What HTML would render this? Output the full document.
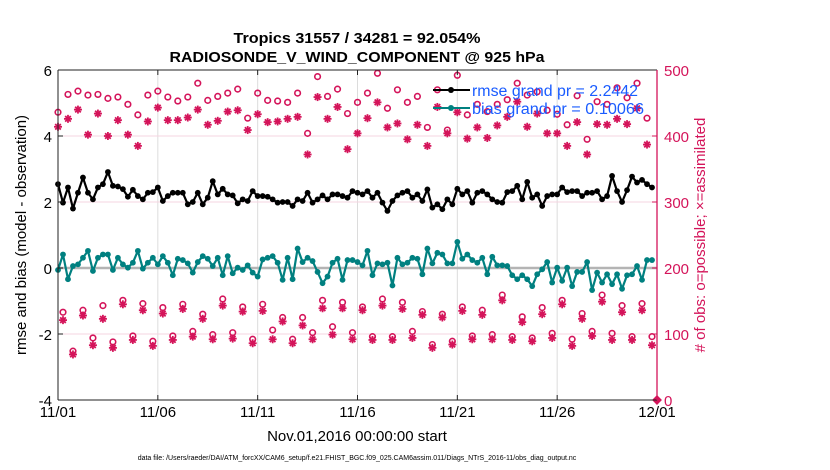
<!DOCTYPE html>
<html><head><meta charset="utf-8"><style>
html,body{margin:0;padding:0;background:#fff;}
svg{display:block;font-family:"Liberation Sans",Arial,sans-serif;}
</style></head><body>
<svg id="chart" width="830" height="470" viewBox="0 0 830 470" xmlns="http://www.w3.org/2000/svg">
<text x="357" y="43" text-anchor="middle" font-size="15" font-weight="bold" textLength="247" lengthAdjust="spacingAndGlyphs">Tropics 31557 / 34281 = 92.054%</text>
<text x="357" y="62" text-anchor="middle" font-size="15" font-weight="bold" textLength="375" lengthAdjust="spacingAndGlyphs">RADIOSONDE_V_WIND_COMPONENT @ 925 hPa</text>
<g id="grid"></g>
<g id="marks"></g>
<g id="axes"></g>
<g>
<line x1="433" y1="90" x2="470" y2="90" stroke="#000" stroke-width="2"/>
<circle cx="451" cy="90" r="3" fill="#000"/>
<text x="472" y="96" font-size="15.5" fill="#1a5cff" textLength="166" lengthAdjust="spacingAndGlyphs">rmse grand pr = 2.2442</text>
<line x1="433" y1="108" x2="470" y2="108" stroke="#008080" stroke-width="2"/>
<circle cx="451" cy="108" r="3" fill="#008080"/>
<text x="472" y="114" font-size="15.5" fill="#1a5cff" textLength="172" lengthAdjust="spacingAndGlyphs">bias grand pr = 0.10066</text>
</g>
<text transform="translate(26,235) rotate(-90)" text-anchor="middle" font-size="15">rmse and bias (model - observation)</text>
<text transform="translate(705,235) rotate(-90)" text-anchor="middle" font-size="15" fill="#d4145a">#  of obs: o=possible; ×=assimilated</text>
<text x="357" y="441" text-anchor="middle" font-size="15">Nov.01,2016 00:00:00 start</text>
<text x="357" y="460" text-anchor="middle" font-size="7">data file: /Users/raeder/DAI/ATM_forcXX/CAM6_setup/f.e21.FHIST_BGC.f09_025.CAM6assim.011/Diags_NTrS_2016-11/obs_diag_output.nc</text>
</svg>
<script>
// data (6-hourly steps, t=0..119)
const dateTicks = ["11/01","11/06","11/11","11/16","11/21","11/26","12/01"];
const leftTicks = [-4,-2,0,2,4,6];
const rightTicks = [0,100,200,300,400,500];
const rmse = [2.54,1.98,2.44,1.80,2.28,2.74,2.28,2.08,2.44,2.54,2.91,2.49,2.47,2.39,2.16,2.37,2.18,2.08,2.28,2.30,2.44,2.03,2.18,2.28,2.28,2.28,1.93,2.0,2.28,1.93,
2.13,2.63,2.23,2.40,2.23,2.2,1.96,2.08,2.03,2.33,2.18,2.18,2.16,2.08,1.98,2.0,2.0,1.88,2.08,2.03,2.28,1.98,2.08,2.2,2.08,2.23,2.23,2.18,2.13,2.33,
2.28,2.23,2.33,2.13,2.28,1.98,1.73,2.03,2.2,2.28,2.33,2.13,2.23,2.03,2.38,1.83,1.93,1.78,2.08,1.93,2.40,2.23,2.33,1.98,2.28,2.33,2.23,2.08,2.0,1.98,
2.30,2.33,2.49,2.08,2.61,2.13,2.23,1.88,2.18,2.23,2.23,2.44,2.30,2.33,2.33,2.18,2.28,2.28,2.33,2.08,2.18,2.79,2.33,2.0,2.36,2.77,2.59,2.67,2.54,2.44];
const bias = [-0.06,0.41,-0.34,0.06,0.11,0.31,0.52,-0.09,0.31,0.41,0.41,-0.06,0.31,0.11,0.01,0.16,0.52,-0.02,0.16,0.31,0.11,0.36,0.16,-0.22,0.28,0.24,0.14,-0.14,0.18,0.36,
0.28,0.06,0.31,-0.22,0.36,-0.16,0.01,-0.06,0.08,-0.14,-0.26,0.26,0.31,0.36,0.16,-0.36,0.31,-0.34,0.59,0.18,0.31,0.21,-0.12,-0.46,-0.26,0.16,0.28,-0.36,0.24,0.24,
0.18,0.08,0.52,-0.22,0.14,0.11,0.16,-0.53,0.31,0.11,0.16,0.31,0.28,-0.19,0.59,0.14,0.46,0.41,0.14,0.14,0.79,0.28,0.41,0.24,0.16,0.31,-0.19,0.34,0.08,0.08,
0.06,-0.22,-0.34,-0.22,-0.34,-0.55,-0.19,-0.04,0.18,-0.44,0.01,-0.39,0.01,-0.55,-0.12,-0.12,0.18,-0.67,-0.14,-0.44,-0.19,-0.49,-0.19,-0.63,-0.22,-0.19,0.06,-0.36,0.24,0.24];
// 00Z/12Z steps (even t)
const possibleSyn = [436,463,468,462,463,457,459,448,432,462,468,459,453,459,480,
454,460,465,471,427,465,454,453,451,465,404,490,460,471,434,
451,465,495,442,470,451,460,413,470,409,492,432,448,437,448,
455,480,462,467,439,433,417,461,395,452,448,473,458,480,427];
const assimSyn = [414,426,440,402,434,400,424,402,385,422,443,424,424,428,440,
417,423,437,439,409,433,421,422,426,429,372,459,426,444,380,
404,427,451,413,419,395,417,385,444,404,436,396,413,397,416,
429,452,414,434,404,404,385,421,372,418,417,426,418,442,387];
// 06Z/18Z steps (odd t)
const possibleOff = [133,74,136,94,143,88,151,97,146,89,140,97,145,104,130,
99,153,102,141,92,145,106,125,92,125,102,151,111,148,102,
141,96,153,96,148,104,134,84,130,89,141,97,136,99,159,
96,126,94,140,101,151,92,131,104,159,101,143,96,146,96];
const assimOff = [121,69,128,83,123,79,145,91,136,82,131,91,138,96,123,
92,143,93,134,86,135,92,119,86,113,92,139,99,139,92,
136,91,143,91,138,94,129,79,125,84,135,92,129,92,151,
91,118,89,130,94,145,82,123,97,149,91,133,91,136,83];

const NS="http://www.w3.org/2000/svg";
const X0=58, X1=657, Y0=400, Y1=70;
const stepsPerDay=4, nDays=30;
const xs = t => X0 + (X1-X0)*t/(nDays*stepsPerDay);
const yL = v => Y0 - (v+4)/10*(Y0-Y1);
const yR = v => Y0 - v/500*(Y0-Y1);
const MAG="#d4145a", TEAL="#008080";
function mk(tag, attrs, parent){const e=document.createElementNS(NS,tag);for(const k in attrs)e.setAttribute(k,attrs[k]);parent.appendChild(e);return e;}
const grid=document.getElementById('grid'), marks=document.getElementById('marks'), axes=document.getElementById('axes');

// grid
dateTicks.forEach((d,i)=>{
  const x=xs(i*5*stepsPerDay);
  if(i>0&&i<dateTicks.length-1){
    const l=mk('line',{x1:x,y1:Y1,x2:x,y2:Y0,stroke:'#dcdcdc','stroke-width':1},grid);
    
    
  }
  const t=mk('text',{x:x,y:417,'text-anchor':'middle','font-size':15},axes);
  t.textContent=d;
  
  
  mk('line',{x1:x,y1:Y0,x2:x,y2:Y0-5,stroke:'#222'},axes);
  mk('line',{x1:x,y1:Y1,x2:x,y2:Y1+5,stroke:'#222'},axes);
});
rightTicks.forEach(v=>{
  const y=yR(v);
  if(v>0&&v<500){
    const l=mk('line',{x1:X0,y1:y,x2:X1,y2:y,stroke:'#f6d5e1','stroke-width':1},grid);
    
    
  }
  const t=mk('text',{x:X1+7,y:y+6,'font-size':15,fill:MAG},axes);
  t.textContent=v;
  
  
  mk('line',{x1:X1,y1:y,x2:X1-5,y2:y,stroke:MAG},axes);
});
leftTicks.forEach(v=>{
  const y=yL(v);
  const t=mk('text',{x:X0-6,y:y+6,'text-anchor':'end','font-size':15},axes);
  t.textContent=v;
  
  
  mk('line',{x1:X0,y1:y,x2:X0+5,y2:y,stroke:'#222'},axes);
});
const zl=mk('line',{x1:X0,y1:yL(0),x2:X1,y2:yL(0),stroke:'#b4b4b4','stroke-width':2.5},grid);



// axes frame
mk('line',{x1:X0,y1:Y1,x2:X1,y2:Y1,stroke:'#222'},axes);
mk('line',{x1:X0,y1:Y0,x2:X1,y2:Y0,stroke:'#222'},axes);
mk('line',{x1:X0,y1:Y1,x2:X0,y2:Y0,stroke:'#222'},axes);
mk('line',{x1:X1,y1:Y1,x2:X1,y2:Y0,stroke:MAG,'stroke-width':1.3},axes);

// obs count markers
function star(x,y,parent){
  const g=mk('g',{},parent);
  
  
  const r=4;
  [[r,0],[0,r],[r*0.7,r*0.7],[r*0.7,-r*0.7]].forEach(([dx,dy])=>mk('line',{x1:x-dx,y1:y-dy,x2:x+dx,y2:y+dy,stroke:MAG,'stroke-width':1.8},g));
}
function circ(x,y,parent){
  const c=mk('circle',{cx:x,cy:y,r:2.8,fill:'none',stroke:MAG,'stroke-width':1.6},parent);
  
  
}
const obsG=mk('g',{},marks);


possibleSyn.forEach((v,i)=>circ(xs(2*i),yR(v),obsG));
assimSyn.forEach((v,i)=>star(xs(2*i),yR(v),obsG));
possibleOff.forEach((v,i)=>circ(xs(2*i+1),yR(v),obsG));
assimOff.forEach((v,i)=>star(xs(2*i+1),yR(v),obsG));
const endDot=mk('rect',{x:X1-3.5,y:Y0-3.5,width:7,height:7,fill:MAG,transform:`rotate(45 ${X1} ${Y0})`},obsG);



// lines
function series(vals,color,name){
  const g=mk('g',{},marks);
  
  
  mk('polyline',{points:vals.map((v,i)=>xs(i)+','+yL(v)).join(' '),fill:'none',stroke:color,'stroke-width':2.2,'stroke-linejoin':'round'},g);
  vals.forEach((v,i)=>mk('circle',{cx:xs(i),cy:yL(v),r:2.9,fill:color},g));
}
series(bias,TEAL,'bias-line');
series(rmse,'#000','rmse-line');
</script>
</body></html>
